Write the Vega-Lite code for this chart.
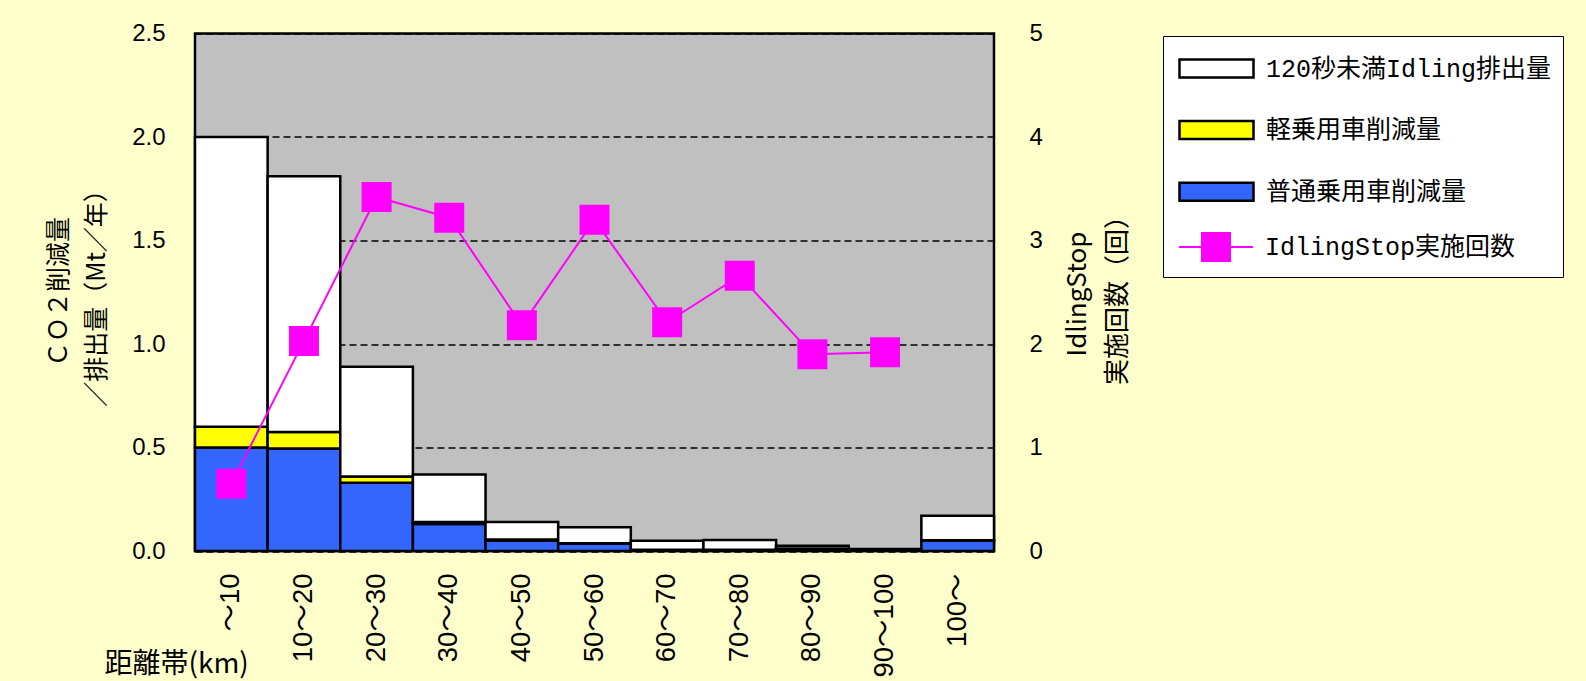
{
  "$schema": "https://vega.github.io/schema/vega-lite/v6.json",
  "width": 799,
  "height": 517.5,
  "autosize": {"type": "none"},
  "padding": {"left": 195, "top": 33.5, "right": 592, "bottom": 130},
  "background": "#FFFFCC",
  "config": {
    "view": {"fill": "#C0C0C0", "stroke": "black", "strokeWidth": 2.5},
    "bar": {"stroke": "black", "strokeWidth": 2.5, "opacity": 1},
    "square": {"stroke": "#FF00FF", "strokeWidth": 2, "opacity": 1, "filled": true}
  },
  "datasets": {
    "bars": [
      {"band": "～10", "series": "普通乗用車削減量", "ord": 1, "value": 0.50},
      {"band": "～10", "series": "軽乗用車削減量", "ord": 2, "value": 0.10},
      {"band": "～10", "series": "120秒未満Idling排出量", "ord": 3, "value": 1.40},
      {"band": "10～20", "series": "普通乗用車削減量", "ord": 1, "value": 0.495},
      {"band": "10～20", "series": "軽乗用車削減量", "ord": 2, "value": 0.08},
      {"band": "10～20", "series": "120秒未満Idling排出量", "ord": 3, "value": 1.235},
      {"band": "20～30", "series": "普通乗用車削減量", "ord": 1, "value": 0.33},
      {"band": "20～30", "series": "軽乗用車削減量", "ord": 2, "value": 0.03},
      {"band": "20～30", "series": "120秒未満Idling排出量", "ord": 3, "value": 0.53},
      {"band": "30～40", "series": "普通乗用車削減量", "ord": 1, "value": 0.13},
      {"band": "30～40", "series": "軽乗用車削減量", "ord": 2, "value": 0.01},
      {"band": "30～40", "series": "120秒未満Idling排出量", "ord": 3, "value": 0.23},
      {"band": "40～50", "series": "普通乗用車削減量", "ord": 1, "value": 0.05},
      {"band": "40～50", "series": "軽乗用車削減量", "ord": 2, "value": 0.005},
      {"band": "40～50", "series": "120秒未満Idling排出量", "ord": 3, "value": 0.085},
      {"band": "50～60", "series": "普通乗用車削減量", "ord": 1, "value": 0.035},
      {"band": "50～60", "series": "軽乗用車削減量", "ord": 2, "value": 0.003},
      {"band": "50～60", "series": "120秒未満Idling排出量", "ord": 3, "value": 0.077},
      {"band": "60～70", "series": "普通乗用車削減量", "ord": 1, "value": 0.005},
      {"band": "60～70", "series": "軽乗用車削減量", "ord": 2, "value": 0.001},
      {"band": "60～70", "series": "120秒未満Idling排出量", "ord": 3, "value": 0.044},
      {"band": "70～80", "series": "普通乗用車削減量", "ord": 1, "value": 0.005},
      {"band": "70～80", "series": "軽乗用車削減量", "ord": 2, "value": 0.001},
      {"band": "70～80", "series": "120秒未満Idling排出量", "ord": 3, "value": 0.047},
      {"band": "80～90", "series": "普通乗用車削減量", "ord": 1, "value": 0.01},
      {"band": "80～90", "series": "軽乗用車削減量", "ord": 2, "value": 0.002},
      {"band": "80～90", "series": "120秒未満Idling排出量", "ord": 3, "value": 0.013},
      {"band": "90～100", "series": "普通乗用車削減量", "ord": 1, "value": 0.004},
      {"band": "90～100", "series": "軽乗用車削減量", "ord": 2, "value": 0.001},
      {"band": "90～100", "series": "120秒未満Idling排出量", "ord": 3, "value": 0.005},
      {"band": "100～", "series": "普通乗用車削減量", "ord": 1, "value": 0.05},
      {"band": "100～", "series": "軽乗用車削減量", "ord": 2, "value": 0.002},
      {"band": "100～", "series": "120秒未満Idling排出量", "ord": 3, "value": 0.118}
    ],
    "counts": [
      {"band": "～10", "series": "IdlingStop実施回数", "count": 0.65},
      {"band": "10～20", "series": "IdlingStop実施回数", "count": 2.03},
      {"band": "20～30", "series": "IdlingStop実施回数", "count": 3.42},
      {"band": "30～40", "series": "IdlingStop実施回数", "count": 3.22},
      {"band": "40～50", "series": "IdlingStop実施回数", "count": 2.18},
      {"band": "50～60", "series": "IdlingStop実施回数", "count": 3.20},
      {"band": "60～70", "series": "IdlingStop実施回数", "count": 2.21},
      {"band": "70～80", "series": "IdlingStop実施回数", "count": 2.66},
      {"band": "80～90", "series": "IdlingStop実施回数", "count": 1.90},
      {"band": "90～100", "series": "IdlingStop実施回数", "count": 1.92}
    ]
  },
  "layer": [
    {
      "data": {"name": "bars"},
      "mark": {"type": "bar"},
      "encoding": {
        "x": {
          "field": "band", "type": "nominal",
          "sort": ["～10", "10～20", "20～30", "30～40", "40～50", "50～60", "60～70", "70～80", "80～90", "90～100", "100～"],
          "scale": {"paddingInner": 0, "paddingOuter": 0},
          "axis": {
            "labelAngle": -90, "labelFont": "Liberation Sans, Noto Sans CJK JP", "labelFontSize": 27.5, "labelColor": "black",
            "labelPadding": 22, "ticks": false, "domain": false, "grid": false,
            "title": "距離帯(km)", "titleFont": "Noto Sans CJK JP", "titleFontSize": 28, "titleFontWeight": "normal", "titleColor": "black",
            "titleAngle": 0, "titleAlign": "left", "titleBaseline": "middle", "titleX": -91, "titleY": 113
          }
        },
        "y": {
          "field": "value", "type": "quantitative", "stack": "zero",
          "scale": {"domain": [0, 2.5]},
          "axis": {
            "values": [0, 0.5, 1, 1.5, 2, 2.5], "format": ".1f",
            "labelFont": "Liberation Sans", "labelFontSize": 24, "labelColor": "black", "labelPadding": 30,
            "ticks": false, "domain": false,
            "grid": true, "gridColor": "black", "gridDash": [7, 4], "gridWidth": 1.5,
            "title": ["ＣＯ２削減量", "／排出量（Mt／年）"], "titleFont": "Noto Sans CJK JP", "titleFontSize": 25, "titleFontWeight": "normal", "titleColor": "black",
            "titleAngle": -90, "titleAlign": "center", "titleBaseline": "middle", "titleLineHeight": 38, "titleX": -137, "titleY": 258
          }
        },
        "color": {
          "field": "series", "type": "nominal",
          "scale": {
            "domain": ["120秒未満Idling排出量", "軽乗用車削減量", "普通乗用車削減量"],
            "range": ["#FFFFFF", "#FFFF00", "#3366FF"]
          },
          "legend": {
            "orient": "none", "legendX": 968, "legendY": 2.5, "zindex": 1,
            "title": " ", "titleOrient": "bottom", "titleFontSize": 2, "titlePadding": 58,
            "padding": 11,
            "strokeColor": "black", "fillColor": "white",
            "symbolType": "M-1.85,-0.45H1.85V0.45H-1.85Z",
            "symbolStrokeColor": "black", "symbolStrokeWidth": 2.5,
            "symbolSize": 1600, "symbolOffset": 21, "labelOffset": 28, "rowPadding": 25.6,
            "labelFont": "Liberation Mono, Noto Sans CJK JP", "labelFontSize": 25, "labelColor": "black", "labelLimit": 500
          }
        },
        "order": {"field": "ord", "type": "quantitative"}
      }
    },
    {
      "data": {"name": "counts"},
      "encoding": {
        "x": {
          "field": "band", "type": "nominal",
          "sort": ["～10", "10～20", "20～30", "30～40", "40～50", "50～60", "60～70", "70～80", "80～90", "90～100", "100～"]
        },
        "y": {
          "field": "count", "type": "quantitative",
          "scale": {"domain": [0, 5]},
          "axis": {
            "orient": "right", "values": [0, 1, 2, 3, 4, 5], "format": "d",
            "labelFont": "Liberation Sans", "labelFontSize": 24, "labelColor": "black", "labelPadding": 35,
            "ticks": false, "domain": false, "grid": false,
            "title": ["IdlingStop", "実施回数（回）"], "titleFont": "Noto Sans CJK JP", "titleFontSize": 26, "titleFontWeight": "normal", "titleColor": "black",
            "titleAngle": -90, "titleAlign": "center", "titleBaseline": "middle", "titleLineHeight": 40, "titleX": 83, "titleY": 260
          }
        }
      },
      "layer": [
        {
          "mark": {"type": "line", "strokeWidth": 2, "color": "#FF00FF"}
        },
        {
          "mark": {"type": "square", "size": 784, "filled": true, "opacity": 1, "stroke": "#FF00FF", "strokeWidth": 2},
          "encoding": {
            "color": {
              "field": "series", "type": "nominal",
              "scale": {"domain": ["IdlingStop実施回数"], "range": ["#FF00FF"]},
              "legend": {
                "orient": "none", "legendX": 968, "legendY": 181.6, "zindex": 2,
                "title": null, "padding": 11,
                "symbolType": "M-1.85,0H-0.7M0.7,0H1.85M-0.7,-0.7H0.7V0.7H-0.7Z",
                "symbolStrokeColor": "#FF00FF", "symbolFillColor": "#FF00FF", "symbolStrokeWidth": 2,
                "symbolSize": 1600, "symbolOffset": 21, "labelOffset": 28, "rowPadding": 13.8,
                "labelFont": "Liberation Mono, Noto Sans CJK JP", "labelFontSize": 25, "labelColor": "black", "labelLimit": 500
              }
            }
          }
        }
      ]
    }
  ],
  "resolve": {"scale": {"y": "independent", "color": "independent"}}
}
